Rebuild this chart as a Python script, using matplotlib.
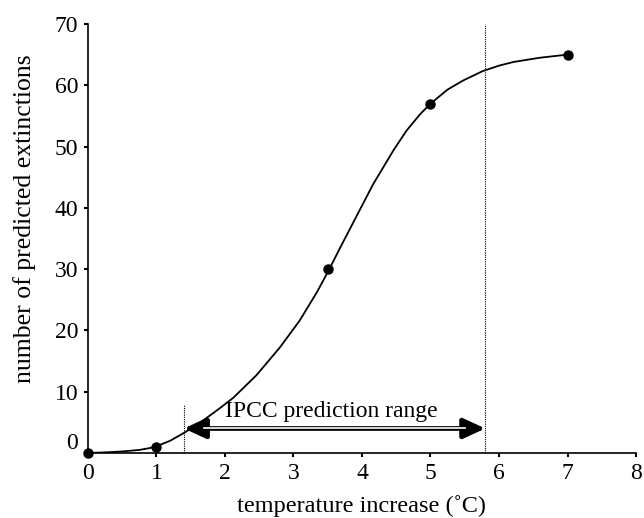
import matplotlib
matplotlib.use("Agg")
import matplotlib.pyplot as plt
import matplotlib.transforms as mtransforms

plt.rcParams['font.family'] = ['Liberation Serif', 'DejaVu Serif']

# observed points
temp_points = [0, 1, 3.5, 5, 7]
extinct_points = [0, 1, 30, 57, 65]

# fitted curve
curve_x = [0, 0.25, 0.5, 0.75, 0.9, 1.0, 1.2, 1.42, 1.68, 1.9, 2.12, 2.46,
           2.8, 3.09, 3.34, 3.5, 3.7, 3.9, 4.16, 4.46, 4.65, 4.85, 5.0,
           5.25, 5.48, 5.76, 6.0, 6.21, 6.6, 7.0]
curve_y = [0, 0.1, 0.25, 0.5, 0.8, 1.1, 2.0, 3.4, 5.3, 7.1, 9.0, 12.7,
           17.2, 21.6, 26.2, 29.5, 33.9, 38.2, 43.8, 49.4, 52.6, 55.3, 57.0,
           59.3, 60.8, 62.3, 63.2, 63.8, 64.5, 65.0]

# IPCC range
ipcc_low = 1.4
ipcc_high = 5.8

x_ticks = list(range(0, 9))
y_ticks = list(range(0, 71, 10))

fig = plt.figure(figsize=(6.44, 5.18), dpi=100)
ax = fig.add_axes([0.1366, 0.1255, 0.851, 0.8282])

ax.plot(curve_x, curve_y, color='black', lw=1.3, zorder=3,
        solid_joinstyle='round')
ax.plot(temp_points, extinct_points, 'o', color='black', markersize=6.5,
        clip_on=False, zorder=4)

ax.plot([ipcc_low, ipcc_low], [0, 8], color='black', lw=0.8, ls=(0, (1, 1)))
ax.plot([ipcc_high, ipcc_high], [0, 70], color='black', lw=0.8, ls=(0, (1, 1)))

ax.annotate('', xy=(ipcc_low, 4), xytext=(ipcc_high, 4),
            arrowprops=dict(arrowstyle='<|-|>,head_length=1.3,head_width=0.6',
                            color='black', lw=3.4, shrinkA=0, shrinkB=0))
ax.plot([ipcc_low + 0.3, ipcc_high - 0.3], [4, 4], color='white', lw=1.2, zorder=5)
ax.text((ipcc_low + ipcc_high) / 2 - 0.05, 6.7, 'IPCC prediction range',
        ha='center', va='center', fontsize=17)

ax.set_xlim(0, 8)
ax.set_ylim(0, 70)
ax.set_xticks(x_ticks)
ax.set_yticks(y_ticks)
ax.tick_params(direction='out', length=3, width=1.5, labelsize=17, pad=4)
for s in ['top', 'right']:
    ax.spines[s].set_visible(False)
for s in ['left', 'bottom']:
    ax.spines[s].set_linewidth(1.2)

# the zero label sits a little above the axis in the original
zero_label = ax.get_yticklabels()[0]
zero_label.set_transform(zero_label.get_transform() +
                         mtransforms.ScaledTranslation(0, 12 / 100, fig.dpi_scale_trans))

ax.set_xlabel('temperature increase (˚C)', fontsize=17.5)
ax.xaxis.set_label_coords(0.5, -0.098)
ax.set_ylabel('number of predicted extinctions', fontsize=18.5)
ax.yaxis.set_label_coords(-0.094, 0.545)

fig.savefig('out.png', dpi=100)
